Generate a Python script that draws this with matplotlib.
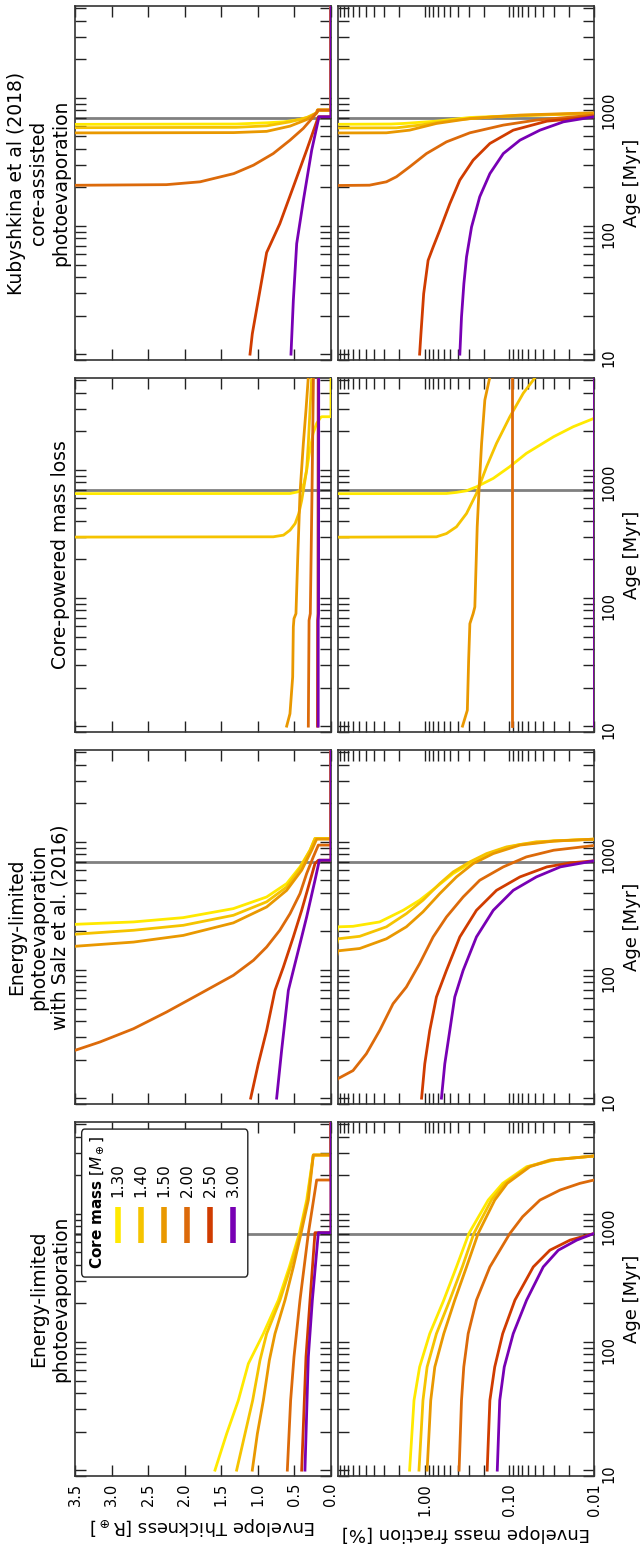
import numpy as np
import matplotlib
matplotlib.use("Agg")
import matplotlib.pyplot as plt
from matplotlib.patches import FancyBboxPatch
from matplotlib.lines import Line2D
from matplotlib.ticker import FixedLocator, LogLocator, FuncFormatter, NullFormatter


# ---- data (ages in Myr, thickness in R_earth, envelope mass fraction in %) ----
core_masses = ["1.30", "1.40", "1.50", "2.00", "2.50", "3.00"]
colors = ["#ffe900", "#f5c300", "#e99800", "#dc6a0a", "#d03c00", "#7800b4"]

model_titles = [
    "Kubyshkina et al (2018)\ncore-assisted\nphotoevaporation",
    "Core-powered mass loss",
    "Energy-limited\nphotoevaporation\nwith Salz et al. (2016)",
    "Energy-limited\nphotoevaporation",
]

cluster_age = 700

# Kubyshkina et al (2018)
kub_thick = [
    ([10, 618, 624, 638, 649, 677, 711, 755, 790, 802, 802, 5500],
     [5.0, 5.0, 1.30, 0.88, 0.65, 0.42, 0.29, 0.20, 0.19, 0.185, 0, 0]),
    ([10, 582, 588, 604, 649, 702, 764, 802, 802, 5500],
     [5.0, 5.0, 1.30, 0.88, 0.56, 0.33, 0.196, 0.185, 0, 0]),
    ([10, 530, 535, 547, 601, 677, 764, 802, 802, 5500],
     [5.0, 5.0, 1.33, 0.88, 0.56, 0.33, 0.196, 0.185, 0, 0]),
    ([10, 204, 210, 221, 256, 298, 367, 467, 576, 711, 778, 802, 802, 5500],
     [6.0, 5.5, 2.25, 1.79, 1.33, 1.06, 0.79, 0.56, 0.38, 0.24, 0.185, 0.18, 0, 0]),
    ([10, 14.4, 62, 104, 202, 390, 711, 711, 5500],
     [1.107, 1.076, 0.88, 0.70, 0.515, 0.333, 0.173, 0, 0]),
    ([10, 26.2, 72.8, 158, 390, 711, 711, 5500],
     [0.547, 0.515, 0.469, 0.378, 0.264, 0.164, 0, 0]),
]
kub_frac = [
    ([10, 618, 624, 630, 657, 702, 728, 742, 755],
     [40, 40, 2.5, 1.80, 0.73, 0.29, 0.075, 0.030, 0.01]),
    ([10, 580, 583, 612, 670, 711, 737, 755],
     [40, 40, 2.16, 1.15, 0.46, 0.155, 0.036, 0.01]),
    ([10, 530, 533, 559, 630, 689, 733, 764],
     [40, 40, 2.84, 1.51, 0.73, 0.29, 0.075, 0.01]),
    ([10, 205, 208, 221, 242, 289, 367, 453, 533, 612, 670, 733],
     [40, 40, 4.5, 2.84, 2.16, 1.51, 0.955, 0.554, 0.293, 0.118, 0.048, 0.01]),
    ([10, 14.4, 29.6, 53.9, 68.5, 92.5, 149, 228, 326, 440, 559, 657, 711],
     [1.15, 1.11, 1.03, 0.913, 0.796, 0.665, 0.506, 0.385, 0.268, 0.170, 0.090, 0.036, 0.01]),
    ([10, 19.5, 35.4, 57.3, 98.2, 169, 256, 367, 467, 559, 649, 711],
     [0.385, 0.368, 0.345, 0.321, 0.28, 0.224, 0.170, 0.118, 0.075, 0.0435, 0.023, 0.01]),
]

# Core-powered mass loss
cp_thick = [
    ([10, 650, 653, 673, 715, 782, 995, 1343, 1923, 2301, 2564, 2594, 2594, 5500],
     [6.0, 6.0, 0.56, 0.45, 0.40, 0.37, 0.333, 0.296, 0.245, 0.196, 0.141, 0.127, 0, 0]),
    ([10, 297, 300, 309, 338, 381, 456, 580, 736, 995, 1607, 2924, 5500],
     [6.0, 6.0, 0.79, 0.65, 0.56, 0.49, 0.44, 0.40, 0.37, 0.333, 0.31, 0.287, 0.262]),
    ([10, 12.5, 24.2, 59.4, 69, 75.5, 197, 653, 1607, 2924, 5500],
     [0.606, 0.561, 0.524, 0.515, 0.506, 0.479, 0.456, 0.424, 0.378, 0.342, 0.308]),
    ([10, 66.9, 75.5, 653, 5500],
     [0.31, 0.30, 0.283, 0.26, 0.24]),
    ([10, 66.9, 75.5, 5500],
     [0.185, 0.183, 0.178, 0.175]),
    ([10, 66.9, 75.5, 5500],
     [0.175, 0.175, 0.17, 0.168]),
]
cp_frac = [
    ([10, 650, 653, 666, 686, 736, 857, 1057, 1343, 1811, 2167, 2518],
     [40, 40, 0.554, 0.422, 0.321, 0.245, 0.155, 0.099, 0.063, 0.030, 0.0176, 0.01]),
    ([10, 297, 300, 318, 359, 456, 653, 1057, 1607, 2594, 3950, 5500],
     [40, 40, 0.728, 0.554, 0.422, 0.321, 0.245, 0.186, 0.142, 0.0987, 0.0686, 0.047]),
    ([10, 13.3, 32.6, 63, 75.5, 85.1, 359, 715, 1607, 3499, 5500],
     [0.358, 0.314, 0.303, 0.293, 0.268, 0.256, 0.24, 0.228, 0.213, 0.195, 0.168]),
    ([10, 5500], [0.094, 0.094]),
    ([10, 5500], [0.01, 0.01]),
    ([10, 5500], [0.01, 0.01]),
]

# Energy-limited with Salz et al. (2016)
salz_thick = [
    ([10, 227, 237, 256, 301, 371, 472, 637, 859, 1061, 1061, 5500],
     [6.0, 3.5, 2.70, 2.02, 1.335, 0.88, 0.606, 0.424, 0.287, 0.219, 0, 0]),
    ([10, 190, 204, 223, 267, 340, 444, 618, 859, 1061, 1061, 5500],
     [6.0, 3.5, 2.70, 2.02, 1.335, 0.88, 0.606, 0.424, 0.287, 0.219, 0, 0]),
    ([10, 153, 165, 186, 233, 310, 418, 600, 859, 1048, 1048, 5500],
     [6.0, 3.5, 2.70, 2.02, 1.335, 0.88, 0.606, 0.401, 0.264, 0.196, 0, 0]),
    ([10, 23.6, 27.4, 34.8, 46.9, 65.3, 90.8, 119, 151, 204, 275, 394, 565, 762, 942, 942, 5500],
     [5.3, 3.5, 3.16, 2.70, 2.25, 1.79, 1.335, 1.06, 0.88, 0.70, 0.56, 0.424, 0.333, 0.242, 0.173, 0, 0]),
    ([10, 18.5, 33.7, 69.3, 105, 181, 292, 444, 676, 718, 718, 5500],
     [1.098, 0.994, 0.88, 0.766, 0.652, 0.515, 0.401, 0.31, 0.219, 0.173, 0, 0]),
    ([10, 23.6, 69.3, 99.3, 160, 259, 501, 718, 718, 5500],
     [0.743, 0.675, 0.583, 0.515, 0.424, 0.333, 0.219, 0.159, 0, 0]),
]
salz_frac = [
    ([10, 217, 219, 237, 292, 350, 444, 565, 676, 785, 885, 953, 1017, 1048],
     [30, 10.6, 7.05, 3.41, 1.80, 1.15, 0.728, 0.462, 0.293, 0.186, 0.118, 0.075, 0.030, 0.01]),
    ([10, 175, 183, 217, 275, 350, 472, 582, 697, 809, 912, 1000, 1048],
     [30, 10.6, 5.87, 2.84, 1.65, 1.05, 0.665, 0.462, 0.293, 0.186, 0.108, 0.048, 0.01]),
    ([10, 141, 147, 175, 217, 284, 394, 532, 676, 809, 942, 1012, 1048],
     [30, 10.6, 5.87, 2.84, 1.65, 1.05, 0.665, 0.422, 0.268, 0.155, 0.075, 0.030, 0.01]),
    ([10, 14.2, 16.4, 22.2, 33.7, 54.5, 73.6, 112, 181, 259, 371, 501, 637, 762, 859, 935],
     [16, 10.6, 7.05, 4.90, 3.41, 2.37, 1.65, 1.15, 0.796, 0.554, 0.352, 0.224, 0.118, 0.063, 0.030, 0.01]),
    ([10, 18.5, 33.7, 61.5, 99.3, 181, 292, 418, 532, 637, 685, 710],
     [1.09, 1.0, 0.873, 0.728, 0.554, 0.385, 0.245, 0.142, 0.075, 0.036, 0.019, 0.01]),
    ([10, 18.5, 33.7, 61.5, 99.3, 181, 292, 418, 532, 637, 710],
     [0.635, 0.58, 0.506, 0.442, 0.352, 0.245, 0.155, 0.090, 0.048, 0.025, 0.01]),
]

# Energy-limited photoevaporation
el_thick = [
    ([10, 19.2, 35, 67.7, 116, 212, 385, 702, 1279, 2873, 2873, 5500],
     [1.586, 1.427, 1.267, 1.13, 0.925, 0.72, 0.57, 0.433, 0.333, 0.242, 0, 0]),
    ([10, 19.2, 35, 71.9, 116, 212, 385, 702, 1279, 2873, 2873, 5500],
     [1.29, 1.176, 1.071, 0.971, 0.88, 0.697, 0.552, 0.424, 0.324, 0.242, 0, 0]),
    ([10, 19.2, 35, 71.9, 116, 212, 385, 702, 1279, 2873, 2873, 5500],
     [1.076, 1.007, 0.925, 0.843, 0.766, 0.629, 0.515, 0.41, 0.31, 0.242, 0, 0]),
    ([10, 35, 76.4, 212, 702, 1834, 1834, 5500],
     [0.597, 0.552, 0.506, 0.424, 0.31, 0.196, 0, 0]),
    ([10, 76.4, 212, 712, 712, 5500],
     [0.401, 0.342, 0.287, 0.219, 0, 0]),
    ([10, 76.4, 212, 712, 712, 5500],
     [0.356, 0.31, 0.255, 0.173, 0, 0]),
]
el_frac = [
    ([10, 35, 63.8, 116, 212, 385, 702, 1279, 1727, 2329, 2650, 2822],
     [1.51, 1.34, 1.15, 0.873, 0.596, 0.422, 0.301, 0.178, 0.12, 0.0626, 0.0277, 0.01]),
    ([10, 35, 63.8, 116, 212, 385, 702, 1279, 1727, 2329, 2626, 2822],
     [1.17, 1.05, 0.938, 0.728, 0.506, 0.36, 0.263, 0.163, 0.113, 0.06, 0.0332, 0.01]),
    ([10, 35, 63.8, 116, 212, 385, 702, 1279, 1727, 2329, 2626, 2822],
     [0.938, 0.85, 0.761, 0.596, 0.442, 0.321, 0.234, 0.149, 0.106, 0.0572, 0.032, 0.01]),
    ([10, 35, 63.8, 116, 212, 385, 702, 948, 1279, 1531, 1727, 1834],
     [0.393, 0.368, 0.346, 0.307, 0.245, 0.170, 0.0987, 0.0698, 0.0435, 0.0252, 0.0147, 0.01]),
    ([10, 35, 63.8, 116, 212, 385, 520, 623, 702],
     [0.183, 0.170, 0.149, 0.12, 0.086, 0.0522, 0.0332, 0.0192, 0.01]),
    ([10, 35, 63.8, 116, 212, 385, 520, 623, 702],
     [0.139, 0.130, 0.115, 0.0901, 0.0626, 0.0398, 0.0264, 0.016, 0.01]),
]

models = [
    (model_titles[0], kub_thick, kub_frac),
    (model_titles[1], cp_thick, cp_frac),
    (model_titles[2], salz_thick, salz_frac),
    (model_titles[3], el_thick, el_frac),
]


# ---- figure (portrait: age runs upward, quantities run right-to-left) ----
W, H = 642, 1552
fig = plt.figure(figsize=(W / 100, H / 100), dpi=100)

left_x, right_x, col_w = 75, 338, 256
row_top = [6, 378, 750, 1122]
row_h = 354
spine_col = "#333333"

age_fmt = FuncFormatter(lambda v, p: f"{v:g}")
frac_fmt = FuncFormatter(lambda v, p: "" if v > 5 else f"{v:.2f}")

for r, (title, thick, frac) in enumerate(models):
    bottom = 1 - (row_top[r] + row_h) / H
    ax_t = fig.add_axes([left_x / W, bottom, col_w / W, row_h / H])
    ax_f = fig.add_axes([right_x / W, bottom, col_w / W, row_h / H])
    last = r == len(models) - 1

    for (ages, vals), c in zip(thick, colors):
        ax_t.plot(vals, ages, color=c, lw=2, zorder=3)
    for (ages, vals), c in zip(frac, colors):
        ax_f.plot(vals, ages, color=c, lw=2, zorder=3)

    ax_t.set_xlim(3.5, 0)
    ax_t.set_xticks(np.arange(0, 3.51, 0.5))
    ax_t.xaxis.set_major_formatter(FuncFormatter(lambda v, p: f"{v:.1f}"))

    ax_f.set_xscale("log")
    ax_f.set_xlim(10.6, 0.01)
    ax_f.xaxis.set_major_locator(FixedLocator([0.01, 0.1, 1, 10]))
    ax_f.xaxis.set_minor_locator(LogLocator(base=10, subs=np.arange(2, 10)))
    ax_f.xaxis.set_major_formatter(frac_fmt)
    ax_f.xaxis.set_minor_formatter(NullFormatter())

    for ax in (ax_t, ax_f):
        ax.axhline(cluster_age, color="#808080", lw=2, zorder=1.5)
        ax.set_yscale("log")
        ax.set_ylim(9, 5200)
        ax.yaxis.set_major_locator(FixedLocator([10, 100, 1000]))
        ax.yaxis.set_minor_locator(LogLocator(base=10, subs=np.arange(2, 10)))
        ax.yaxis.set_major_formatter(age_fmt)
        ax.yaxis.set_minor_formatter(NullFormatter())
        ax.tick_params(which="both", direction="in", length=8, width=1,
                       color="#222222", top=True, bottom=True, left=True,
                       right=True, labelsize=10.5, pad=5)
        ax.tick_params(axis="x", labelbottom=last, labelrotation=90)
        ax.tick_params(axis="y", labelleft=False, labelright=(ax is ax_f),
                       labelrotation=90)
        for sp in ax.spines.values():
            sp.set_color(spine_col)
            sp.set_linewidth(1.2)

    ax_f.yaxis.set_label_position("right")
    ax_f.set_ylabel("Age [Myr]", fontsize=13, labelpad=5)

    if last:
        ax_t.set_xlabel(r"Envelope Thickness [R$_\oplus$]", rotation=180,
                        fontsize=13, labelpad=6)
        ax_f.set_xlabel("Envelope mass fraction [%]", rotation=180,
                        fontsize=13, labelpad=6)

        # legend drawn in the rotated orientation
        ax = ax_t
        box = FancyBboxPatch((0.026, 0.562), 0.649, 0.418,
                             boxstyle="round,pad=0,rounding_size=0.012",
                             transform=ax.transAxes, fc="white",
                             ec="#222222", lw=1, zorder=5)
        ax.add_patch(box)
        ax.text(0.085, 0.586, r"$\bf{Core\ mass}$ [$M_\oplus$]",
                rotation=90, ha="center", va="bottom", fontsize=11,
                transform=ax.transAxes, zorder=6)
        for i, (m, c) in enumerate(zip(core_masses, colors)):
            x = 0.169 + i * 0.0898
            ax.add_line(Line2D([x, x], [0.657, 0.759], transform=ax.transAxes,
                               color=c, lw=4, solid_capstyle="butt", zorder=6))
            ax.text(x, 0.788, m, rotation=90, ha="center", va="bottom",
                    fontsize=11, transform=ax.transAxes, zorder=6)

    fig.text(70 / W, 1 - (row_top[r] + row_h / 2) / H, title, rotation=90,
             ha="right", va="center", multialignment="center", fontsize=13.5)

fig.savefig("out.png", dpi=100)
